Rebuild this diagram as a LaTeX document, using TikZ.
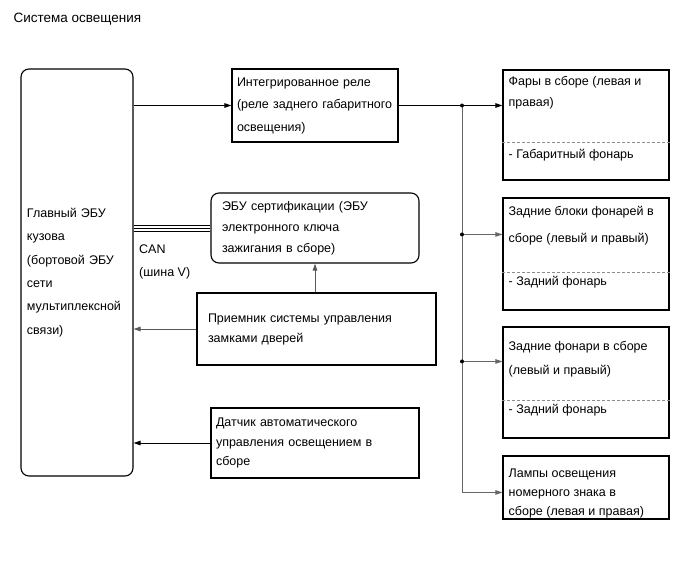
\documentclass[tikz,border=0pt]{standalone}
\usepackage{fontspec}
\setmainfont{Liberation Sans}
\usetikzlibrary{arrows.meta}

\begin{document}
\begin{tikzpicture}[
  x=1pt, y=-1pt,
  font=\fontsize{12.5}{21}\selectfont,
  box/.style={draw,line width=1.1pt,align=left,inner ysep=0pt},
  ecu/.style={box,rounded corners=8pt},
  lamp/.style={box,minimum width=166pt,inner xsep=7pt},
  lamptxt/.style={anchor=north west,align=left,inner xsep=6pt,inner ysep=7pt},
  arr/.style={-{Triangle[length=7pt,width=4.5pt]},line width=0.9pt},
  bus/.style={arr,black!60},
  divider/.style={densely dashed,black!45,line width=0.8pt}]
\useasboundingbox (0,0) rectangle (690,562);
\node[anchor=west,font=\fontsize{13.5}{16}\selectfont] (title) at (10,19) {Система освещения};

\node[ecu,text width=100pt,inner xsep=6pt,minimum height=407pt,
  font=\fontsize{12.5}{23.4}\selectfont] (gl) at (77,272.5)
  {Главный ЭБУ\\кузова\\(бортовой ЭБУ\\сети\\мультиплексной\\связи)};
\node[box,text width=156pt,inner xsep=5pt,minimum height=73pt,
  font=\fontsize{12.5}{22.5}\selectfont] (rel) at (315,105.5)
  {Интегрированное реле\\(реле заднего габаритного\\освещения)};
\node[ecu,text width=186pt,inner xsep=11pt,minimum height=70pt] (cert) at (315,228)
  {ЭБУ сертификации (ЭБУ\\электронного ключа\\зажигания в сборе)};
\node[box,text width=217pt,inner xsep=11pt,minimum height=72pt,
  font=\fontsize{12.5}{20}\selectfont] (priem) at (316.5,329)
  {Приемник системы управления\\замками дверей};
\node[box,text width=198pt,inner xsep=5pt,minimum height=70pt,
  font=\fontsize{12.5}{19.5}\selectfont] (dat) at (315,443)
  {Датчик автоматического\\управления освещением в\\сборе};
\node[anchor=north west,align=left,inner sep=0pt,
  font=\fontsize{12.5}{23}\selectfont] (can) at (139,245) {CAN\\(шина V)};

\node[lamp,minimum height=110pt] (fary) at (586,125) {};
\node[lamp,minimum height=112pt] (zblok) at (586,254) {};
\node[lamp,minimum height=111pt] (zfon) at (586,382.5) {};
\node[lamp,minimum height=63pt] (lampy) at (586,487.5) {};

\node[lamptxt] (fary-t) at (fary.north west) {Фары в сборе (левая и\\правая)};
\node[lamptxt,inner ysep=9pt,font=\fontsize{12.5}{27}\selectfont] (zblok-t) at (zblok.north west)
  {Задние блоки фонарей в\\сборе (левый и правый)};
\node[lamptxt,inner ysep=15pt,font=\fontsize{12.5}{24}\selectfont] (zfon-t) at (zfon.north west)
  {Задние фонари в сборе\\(левый и правый)};
\node[lamptxt,inner ysep=13pt,font=\fontsize{12.5}{19}\selectfont] (lampy-t) at (lampy.north west)
  {Лампы освещения\\номерного знака в\\сборе (левая и правая)};
\node[lamptxt,anchor=west] (fary-b) at ([yshift=25pt]fary.south west) {- Габаритный фонарь};
\node[lamptxt,anchor=west] (zblok-b) at ([yshift=28pt]zblok.south west) {- Задний фонарь};
\node[lamptxt,anchor=west] (zfon-b) at ([yshift=28pt]zfon.south west) {- Задний фонарь};

\draw[divider] ([yshift=38pt]fary.south west) -- ([yshift=38pt]fary.south east);
\draw[divider] ([yshift=38pt]zblok.south west) -- ([yshift=38pt]zblok.south east);
\draw[divider] ([yshift=38pt]zfon.south west) -- ([yshift=38pt]zfon.south east);

\coordinate (busx) at (462,0);
\coordinate (zblok-in) at ([yshift=-37pt]zblok.north west);
\coordinate (zfon-in) at ([yshift=-35pt]zfon.north west);
\coordinate (lampy-in) at ([yshift=-37pt]lampy.north west);

\draw[arr] (gl.east |- rel.west) -- (rel.west);
\draw[arr] (rel.east) -- (rel.east -| fary.west);
\draw[bus] (rel.east -| busx) |- (lampy-in);
\draw[bus] (zblok-in -| busx) -- (zblok-in);
\draw[bus] (zfon-in -| busx) -- (zfon-in);
\fill (rel.east -| busx) circle[radius=2pt];
\fill (zblok-in -| busx) circle[radius=2pt];
\fill (zfon-in -| busx) circle[radius=2pt];

\foreach \dy in {-3,0,3}
  \draw[line width=0.9pt] ([yshift=\dy pt]gl.east |- cert.west) -- ([yshift=\dy pt]cert.west);
\draw[arr,black!65] (priem.north -| cert.south) -- (cert.south);
\draw[arr,black!65] (priem.west) -- (priem.west -| gl.east);
\draw[arr] (dat.west) -- (dat.west -| gl.east);
\end{tikzpicture}
\end{document}
